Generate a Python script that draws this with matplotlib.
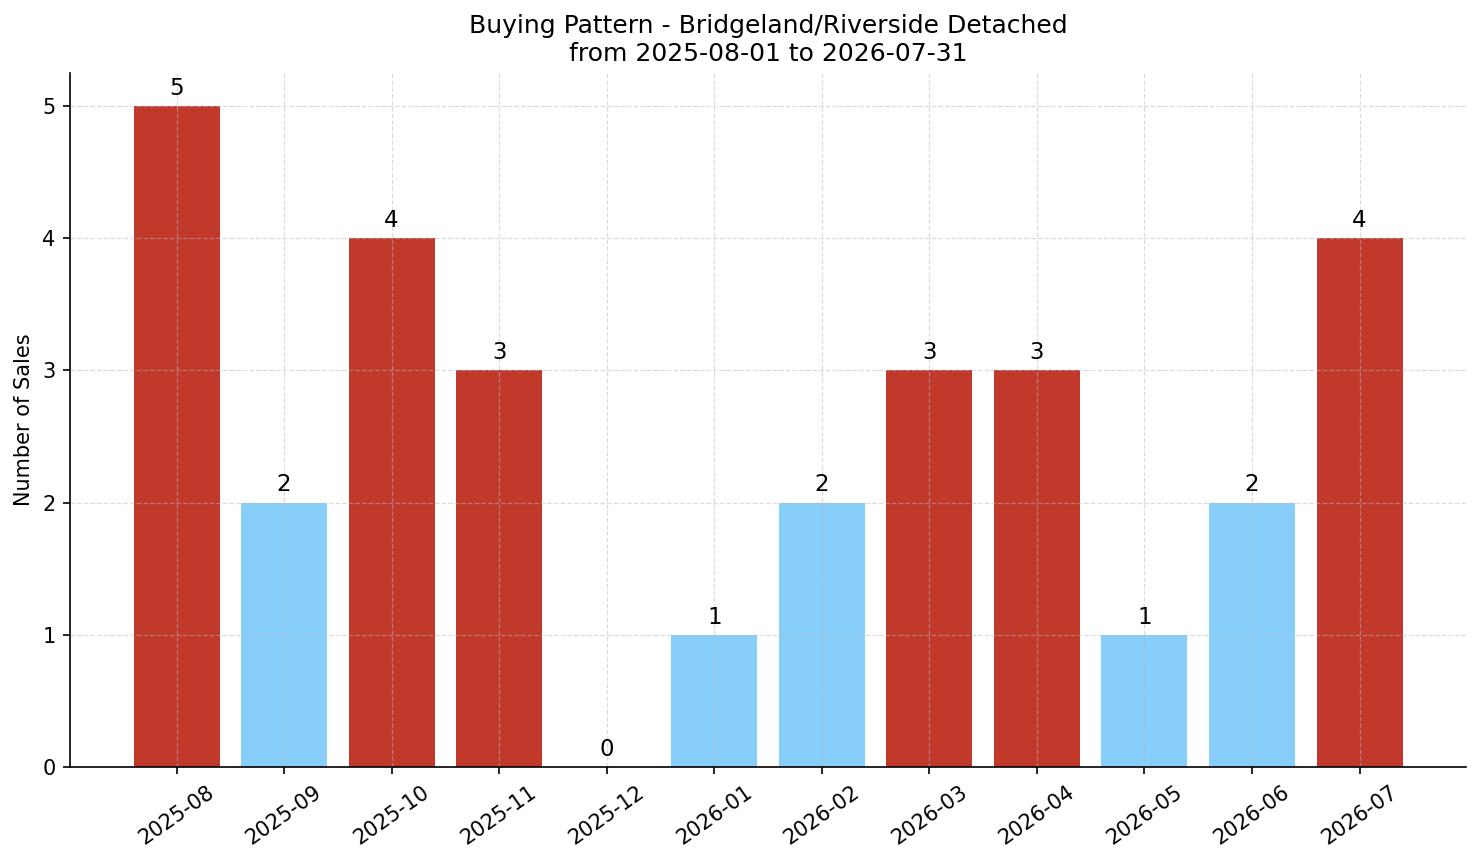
import matplotlib
matplotlib.use("Agg")
import matplotlib.pyplot as plt

months = ["2025-08", "2025-09", "2025-10", "2025-11", "2025-12", "2026-01",
          "2026-02", "2026-03", "2026-04", "2026-05", "2026-06", "2026-07"]
sales = [5, 2, 4, 3, 0, 1, 2, 3, 3, 1, 2, 4]

# above-average months in red, the rest in light blue
avg = sum(sales) / len(sales)
colors = ["#c0392b" if s > avg else "#87cefa" for s in sales]

fig, ax = plt.subplots(figsize=(1481 / 150, 863 / 150), dpi=150)
fig.subplots_adjust(left=0.0473, right=0.9899, bottom=0.1112, top=0.9154)

x = list(range(len(months)))
bars = ax.bar(x, sales, color=colors, width=0.8)

for b, s in zip(bars, sales):
    ax.annotate(str(s), (b.get_x() + b.get_width() / 2, s), xytext=(0, 3),
                textcoords="offset points", ha="center", va="bottom", fontsize=11)

ax.set_xticks(x)
ax.set_xticklabels(months, rotation=35, ha="center")
ax.set_ylabel("Number of Sales")
ax.set_title("Buying Pattern - Bridgeland/Riverside Detached\nfrom 2025-08-01 to 2026-07-31",
             fontsize=12)
ax.grid(True, linestyle="--", alpha=0.5, color="#bbbbbb", linewidth=0.6)
ax.spines["top"].set_visible(False)
ax.spines["right"].set_visible(False)

fig.savefig("out.png", dpi=150)
